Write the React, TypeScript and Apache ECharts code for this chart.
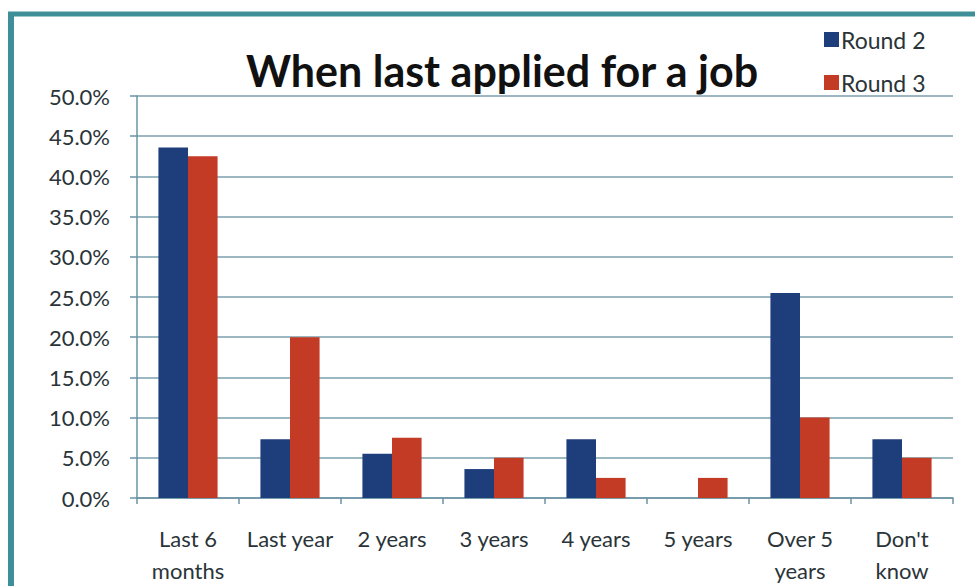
import React, { useEffect, useRef } from "react";
import * as echarts from "echarts";

const categories = [
  "Last 6\nmonths",
  "Last year",
  "2 years",
  "3 years",
  "4 years",
  "5 years",
  "Over 5\nyears",
  "Don't\nknow",
];
const round2 = [43.6, 7.3, 5.5, 3.6, 7.3, 0, 25.5, 7.3];
const round3 = [42.5, 20, 7.5, 5, 2.5, 2.5, 10, 5];
const seriesNames = ["Round 2", "Round 3"];
const titleText = "When last applied for a job";

const FONT = "Lato, 'Open Sans', sans-serif";
const TEXT = "#2a3438";
const GRID = "#7a9fae";
const AXIS = "#6a93a3";
const FRAME = "#3f8f99";

export default function App() {
  const ref = useRef<HTMLDivElement>(null);
  useEffect(() => {
    if (!ref.current) return;
    const chart = echarts.init(ref.current, undefined, { renderer: "svg" });
    chart.setOption({
      animation: false,
      backgroundColor: "#ffffff",
      textStyle: { fontFamily: FONT },
      title: {
        text: titleText,
        left: 497,
        textAlign: "center",
        top: 44,
        textStyle: { fontFamily: FONT, fontSize: 43, fontWeight: "bold", color: "#111" },
      },
      legend: {
        orient: "vertical",
        left: 819,
        top: 23,
        itemWidth: 15,
        itemHeight: 15,
        itemGap: 20,
        icon: "rect",
        data: seriesNames,
        textStyle: { fontFamily: FONT, fontSize: 23, color: TEXT, padding: [0, 0, 0, -3] },
      },
      grid: { left: 137, right: 22, top: 96, bottom: 86, containLabel: false },
      xAxis: {
        type: "category",
        data: categories,
        axisLine: { show: true, lineStyle: { color: AXIS, width: 1.5 } },
        axisTick: { show: true, length: 6, lineStyle: { color: AXIS, width: 1.5 } },
        axisLabel: {
          margin: 24,
          fontSize: 22,
          lineHeight: 32,
          color: TEXT,
          fontFamily: FONT,
          interval: 0,
        },
      },
      yAxis: {
        type: "value",
        min: 0,
        max: 50,
        interval: 5,
        axisLine: { show: true, lineStyle: { color: AXIS, width: 1.5 } },
        axisTick: { show: true, length: 7, lineStyle: { color: AXIS, width: 1.5 } },
        splitLine: { show: true, lineStyle: { color: GRID, width: 1.5 } },
        axisLabel: {
          margin: 27,
          fontSize: 22,
          color: TEXT,
          fontFamily: FONT,
          formatter: (v: number) => v.toFixed(1) + "%",
        },
      },
      series: [
        {
          name: seriesNames[0],
          type: "bar",
          data: round2,
          barGap: "0%",
          barCategoryGap: "42%",
          itemStyle: { color: "#1e3d7b" },
        },
        {
          name: seriesNames[1],
          type: "bar",
          data: round3,
          barGap: "0%",
          barCategoryGap: "42%",
          itemStyle: { color: "#c33a25" },
        },
      ],
      graphic: [
        {
          type: "line",
          shape: { x1: 8, y1: 14, x2: 975, y2: 14 },
          style: { stroke: FRAME, lineWidth: 5 },
          silent: true,
        },
        {
          type: "line",
          shape: { x1: 11, y1: 12, x2: 11, y2: 586 },
          style: { stroke: FRAME, lineWidth: 6 },
          silent: true,
        },
      ],
    });
    return () => chart.dispose();
  }, []);
  return (
    <div
      ref={ref}
      style={{ position: "fixed", left: 0, top: 0, width: 975, height: 586 }}
    />
  );
}
